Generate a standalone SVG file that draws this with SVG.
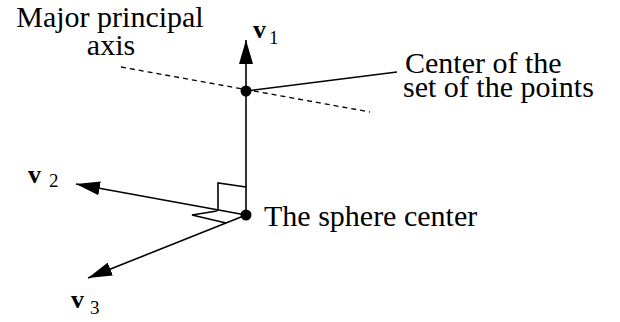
<svg xmlns="http://www.w3.org/2000/svg" width="620" height="322" viewBox="0 0 620 322">
<defs>
<style>
.t{font-family:"Liberation Serif","Times New Roman",serif;font-size:30px;fill:#000}
.v{font-family:"Liberation Serif","Times New Roman",serif;font-size:26px;font-weight:bold;fill:#000}
.s{font-family:"Liberation Serif","Times New Roman",serif;font-size:19px;fill:#000}
.ln{stroke:#000;stroke-width:1.6;fill:none}
.ds{stroke:#000;stroke-width:1.3;fill:none;stroke-dasharray:5,4}
</style>
<marker id="ah" viewBox="0 0 24 14" refX="24" refY="7" markerWidth="24" markerHeight="14" markerUnits="userSpaceOnUse" orient="auto">
<path d="M0,0 L24,7 L0,14 Z" fill="#000"/>
</marker>
</defs>
<rect width="620" height="322" fill="#fff"/>
<g id="connectors">
<line class="ds" x1="121" y1="67" x2="370" y2="112"/>
<line class="ln" x1="246" y1="215" x2="246" y2="40" marker-end="url(#ah)"/>
<line class="ln" x1="246" y1="215" x2="76" y2="184" marker-end="url(#ah)"/>
<line class="ln" x1="246" y1="215" x2="88" y2="278" marker-end="url(#ah)"/>
<line class="ln" x1="246" y1="91" x2="397" y2="72"/>
<polyline class="ln" points="218,211 218,183 246,187"/>
<polyline class="ln" points="217,211 192,215 226,223"/>
</g>
<g id="center-points">
<circle cx="246" cy="91" r="5.5" fill="#000"/>
<text class="t" x="405" y="73">Center of the</text>
<text class="t" x="403" y="97">set of the points</text>
</g>
<g id="sphere-center">
<circle cx="246" cy="215" r="5.5" fill="#000"/>
<text class="t" x="264" y="226">The sphere center</text>
</g>
<g id="major-axis">
<text class="t" x="110" y="27" text-anchor="middle">Major principal</text>
<text class="t" x="111" y="55" text-anchor="middle">axis</text>
</g>
<g id="v1">
<text class="v" x="253" y="38">v</text>
<text class="s" x="269" y="44">1</text>
</g>
<g id="v2">
<text class="v" x="28" y="183">v</text>
<text class="s" x="49" y="187">2</text>
</g>
<g id="v3">
<text class="v" x="71" y="308">v</text>
<text class="s" x="90" y="314">3</text>
</g>
</svg>
